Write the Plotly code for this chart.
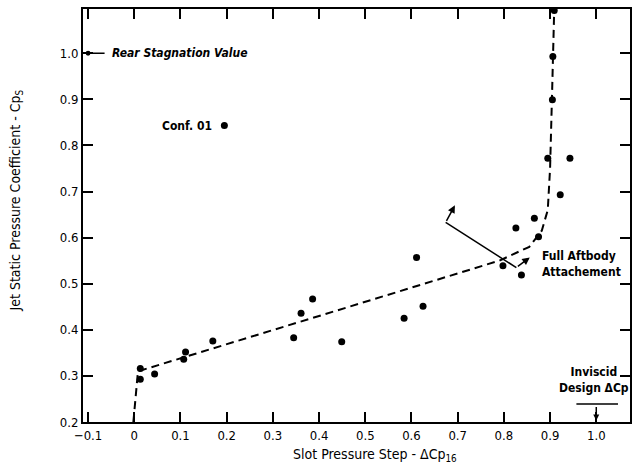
import plotly.graph_objects as go

# measured data points
x_data = [0.013, 0.013, 0.044, 0.107, 0.111, 0.170, 0.195, 0.345, 0.361, 0.386,
          0.449, 0.584, 0.611, 0.625, 0.798, 0.826, 0.838, 0.866, 0.875, 0.895,
          0.905, 0.906, 0.909, 0.922, 0.943]
y_data = [0.316, 0.293, 0.304, 0.336, 0.352, 0.376, 0.843, 0.383, 0.436, 0.467,
          0.374, 0.425, 0.557, 0.451, 0.539, 0.621, 0.519, 0.642, 0.602, 0.772,
          0.899, 0.993, 1.093, 0.693, 0.772]

# faired dashed curve
curve_x = [-0.002, 0.008, 0.4, 0.79, 0.855, 0.882, 0.895, 0.900, 0.904, 0.909]
curve_y = [0.2, 0.31, 0.43, 0.55, 0.58, 0.615, 0.66, 0.75, 0.9, 1.096]

x_ticks = [-0.1, 0, 0.1, 0.2, 0.3, 0.4, 0.5, 0.6, 0.7, 0.8, 0.9, 1.0]
x_ticktext = ["\u22120.1", "0", "0.1", "0.2", "0.3", "0.4", "0.5", "0.6", "0.7", "0.8", "0.9", "1.0"]
y_ticks = [0.2, 0.3, 0.4, 0.5, 0.6, 0.7, 0.8, 0.9, 1.0]
y_ticktext = ["0.2", "0.3", "0.4", "0.5", "0.6", "0.7", "0.8", "0.9", "1.0"]

FONT = "DejaVu Sans Condensed, Liberation Sans Narrow, Liberation Sans, sans-serif"

fig = go.Figure()
fig.add_trace(go.Scatter(x=curve_x, y=curve_y, mode="lines",
                         line=dict(color="black", width=2, dash="8px,5px"),
                         hoverinfo="skip", cliponaxis=False))
fig.add_trace(go.Scatter(x=x_data, y=y_data, mode="markers",
                         marker=dict(color="black", size=7),
                         cliponaxis=False))

axis_common = dict(showgrid=False, zeroline=False, showline=True, linecolor="black",
                   linewidth=2, mirror="ticks", ticks="inside", ticklen=10,
                   tickwidth=1.5, tickcolor="black",
                   tickfont=dict(family=FONT, size=13, color="black"))

fig.update_xaxes(range=[-0.111, 1.073], tickvals=x_ticks, ticktext=x_ticktext, **axis_common)
fig.update_yaxes(range=[0.2, 1.096], tickvals=y_ticks, ticktext=y_ticktext, **axis_common)

ann = []
# axis titles
ann.append(dict(xref="paper", yref="paper", x=(376 - 83) / 549, y=-0.054,
                text="Slot Pressure Step - \u0394Cp<sub>16</sub>", showarrow=False,
                xanchor="center", yanchor="top",
                font=dict(family=FONT, size=14, color="black")))
ann.append(dict(xref="paper", yref="paper", x=-0.122, y=0.537,
                text="Jet Static Pressure Coefficient - Cp<sub>S</sub>", showarrow=False,
                textangle=-90, xanchor="center", yanchor="middle",
                font=dict(family=FONT, size=14, color="black")))
# rear stagnation
ann.append(dict(x=-0.1, y=1.0, text="", showarrow=True, ax=18, ay=0,
                arrowhead=6, arrowsize=0.8, arrowwidth=1.5, arrowcolor="black"))
ann.append(dict(x=-0.053, y=1.0, text="<b><i>Rear Stagnation Value</i></b>", showarrow=False,
                xanchor="left", yanchor="middle",
                font=dict(family=FONT, size=12, color="black")))
# conf label
ann.append(dict(x=0.172, y=0.843, text="<b>Conf. 01</b>", showarrow=False,
                xanchor="right", yanchor="middle",
                font=dict(family=FONT, size=12, color="black")))
# full aftbody attachment bracket
ann.append(dict(x=0.694, y=0.670, ax=0.674, ay=0.633, axref="x", ayref="y",
                text="", showarrow=True, arrowhead=2, arrowsize=1, arrowwidth=1.5,
                arrowcolor="black"))
ann.append(dict(x=0.856, y=0.557, ax=0.827, ay=0.535, axref="x", ayref="y",
                text="", showarrow=True, arrowhead=2, arrowsize=1, arrowwidth=1.5,
                arrowcolor="black"))
ann.append(dict(x=0.879, y=0.543, text="<b>Full Aftbody<br>Attachement</b>", showarrow=False,
                xanchor="left", yanchor="middle", align="left",
                font=dict(family=FONT, size=12, color="black")))
# inviscid design
ann.append(dict(x=0.994, y=0.291, text="<b>Inviscid<br>Design \u0394Cp</b>", showarrow=False,
                xanchor="center", yanchor="middle", align="center",
                font=dict(family=FONT, size=12, color="black")))
ann.append(dict(x=1.0, y=0.203, text="", showarrow=True, ax=0, ay=-15,
                arrowhead=2, arrowsize=0.8, arrowwidth=1.5, arrowcolor="black"))

fig.update_layout(annotations=ann)
fig.add_shape(type="line", x0=0.674, y0=0.633, x1=0.827, y1=0.535,
              line=dict(color="black", width=1.5))
fig.add_shape(type="line", x0=0.957, y0=0.239, x1=1.047, y1=0.239,
              line=dict(color="black", width=1.5))

fig.update_layout(width=635, height=465, margin=dict(l=83, r=3, t=9, b=43),
                  paper_bgcolor="white", plot_bgcolor="white", showlegend=False,
                  font=dict(family=FONT, color="black"))

fig.write_html("out.html")
